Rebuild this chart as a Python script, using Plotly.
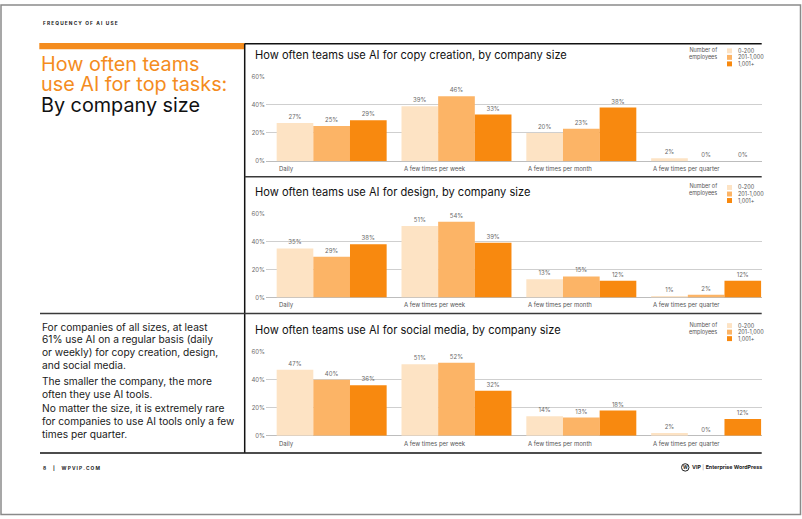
import plotly.graph_objects as go

W, H = 802, 519

# ---------------- data ----------------
categories = ["Daily", "A few times per week", "A few times per month", "A few times per quarter"]
sizes = ["0-200", "201-1,000", "1,001+"]

copy_small = [27, 39, 20, 2]
copy_mid = [25, 46, 23, 0]
copy_large = [29, 33, 38, 0]

design_small = [35, 51, 13, 1]
design_mid = [29, 54, 15, 2]
design_large = [38, 39, 12, 12]

social_small = [47, 51, 14, 2]
social_mid = [40, 52, 13, 0]
social_large = [36, 32, 18, 12]

chart_titles = [
    "How often teams use AI for copy creation, by company size",
    "How often teams use AI for design, by company size",
    "How often teams use AI for social media, by company size",
]
y_ticks = [0, 20, 40, 60]
y_tick_labels = ["0%", "20%", "40%", "60%"]

# ---------------- style ----------------
FONT = "Inter"
colors = ["#FDE3C4", "#FCB466", "#F8890F"]
ORANGE = "#F48C1E"
series = [
    [copy_small, copy_mid, copy_large],
    [design_small, design_mid, design_large],
    [social_small, social_mid, social_large],
]

# pixel geometry of each chart panel (60% line, 0% line, title y)
panels = [(73.5, 159.3, 52.0), (212.3, 297.5, 190.5), (352.3, 437.7, 330.5)]
PLOT_L, PLOT_R = 266.0, 761.7
BARGAP = 0.119


def px(x):
    return x / W


def py(y):
    return 1 - y / H


fig = go.Figure()
annotations = []
shapes = []

for i, (top, bot, ty) in enumerate(panels):
    n = "" if i == 0 else str(i + 1)
    for j, vals in enumerate(series[i]):
        fig.add_trace(go.Bar(
            x=categories, y=vals, name=sizes[j],
            marker=dict(color=colors[j], line=dict(width=0)),
            text=[f"{v}%" for v in vals], texttemplate="%{text}",
            textposition="outside",
            textfont=dict(size=6, color="#6b6b6b", family=FONT),
            cliponaxis=False, showlegend=False,
            xaxis="x" + n, yaxis="y" + n,
        ))
    fig.layout["xaxis" + n] = dict(
        domain=[px(PLOT_L), px(PLOT_R)], anchor="y" + n, type="category",
        categoryorder="array", categoryarray=categories,
        range=[-0.526, 3.445], showticklabels=False, showgrid=False,
        zeroline=False, showline=False, ticks="", fixedrange=True,
    )
    fig.layout["yaxis" + n] = dict(
        domain=[py(bot), py(top)], anchor="x" + n, range=[0, 60],
        tickmode="array", tickvals=y_ticks, ticktext=y_tick_labels,
        tickfont=dict(size=6, color="#6b6b6b", family=FONT),
        showgrid=True, gridcolor="#cfcfcf", gridwidth=1,
        zeroline=True, zerolinecolor="#bdbdbd", zerolinewidth=1,
        showline=False, ticks="", fixedrange=True,
    )
    # category labels, left-aligned at the start of each group
    half = (1 - BARGAP) / 2
    for k, c in enumerate(categories):
        annotations.append(dict(
            x=k - half, y=0, xref="x" + n, yref="y" + n, yshift=-8,
            text=c, showarrow=False, xanchor="left", yanchor="middle",
            font=dict(size=6, color="#555", family=FONT),
        ))
    # chart title
    annotations.append(dict(
        x=px(253.3), y=py(ty), xref="paper", yref="paper", text=chart_titles[i],
        showarrow=False, xanchor="left", yanchor="middle",
        font=dict(size=11.1, color="#111", family=FONT),
    ))
    # custom legend
    annotations.append(dict(
        x=px(718.5), y=py(ty - 1.5), xref="paper", yref="paper",
        text="Number of<br>employees", showarrow=False, xanchor="right",
        yanchor="middle", align="right",
        font=dict(size=5.5, color="#555", family=FONT),
    ))
    for j, s in enumerate(sizes):
        yy = ty - 4.5 + j * 6.6
        shapes.append(dict(
            type="rect", xref="paper", yref="paper",
            x0=px(727), x1=px(732), y0=py(yy + 2.5), y1=py(yy - 2.5),
            fillcolor=colors[j], line=dict(width=0),
        ))
        annotations.append(dict(
            x=px(735.5), y=py(yy), xref="paper", yref="paper", text=s,
            showarrow=False, xanchor="left", yanchor="middle",
            font=dict(size=5.5, color="#555", family=FONT),
        ))

# ---------------- page furniture ----------------
def hline(x0, x1, y, color, width):
    shapes.append(dict(type="line", xref="paper", yref="paper",
                       x0=px(x0), x1=px(x1), y0=py(y), y1=py(y),
                       line=dict(color=color, width=width)))


# frame
shapes.append(dict(type="rect", xref="paper", yref="paper",
                   x0=px(1), x1=px(800.5), y0=py(517.5), y1=py(1),
                   line=dict(color="#8a8a8a", width=1.5)))
hline(244.7, 761.7, 40.2, "#111", 1.5)
shapes.append(dict(type="rect", xref="paper", yref="paper",
                   x0=px(39.3), x1=px(244.7), y0=py(45.8), y1=py(39.6),
                   fillcolor=ORANGE, line=dict(width=0)))
shapes.append(dict(type="line", xref="paper", yref="paper",
                   x0=px(244.7), x1=px(244.7), y0=py(40), y1=py(455),
                   line=dict(color="#111", width=1.5)))
hline(244.7, 761.7, 175.2, "#3a3a3a", 1.5)
hline(40, 761.7, 313.8, "#3a3a3a", 1.5)
hline(40, 761.7, 455.2, "#111", 1.5)

annotations.append(dict(x=px(40.5), y=py(19.5), xref="paper", yref="paper",
                        text="<b>F R E Q U E N C Y   O F   A I   U S E</b>",
                        showarrow=False, xanchor="left", yanchor="middle",
                        font=dict(size=4.8, color="#222", family=FONT)))

for txt, yy, col in [("How often teams", 61, ORANGE),
                     ("use AI for top tasks:", 81.5, ORANGE),
                     ("By company size", 102, "#111")]:
    annotations.append(dict(x=px(38.5), y=py(yy), xref="paper", yref="paper",
                            text=txt, showarrow=False, xanchor="left", yanchor="middle",
                            font=dict(size=19.8, color=col, family=FONT)))

body_lines = [
    ("For companies of all sizes, at least", 327),
    ("61% use AI on a regular basis (daily", 340),
    ("or weekly) for copy creation, design,", 353),
    ("and social media.", 366),
    ("The smaller the company, the more", 382),
    ("often they use AI tools.", 395),
    ("No matter the size, it is extremely rare", 410),
    ("for companies to use AI tools only a few", 423),
    ("times per quarter.", 436),
]
for txt, yy in body_lines:
    annotations.append(dict(x=px(39.5), y=py(yy), xref="paper", yref="paper",
                            text=txt, showarrow=False, xanchor="left", yanchor="middle",
                            font=dict(size=10.2, color="#1a1a1a", family=FONT)))

annotations.append(dict(x=px(40.5), y=py(470), xref="paper", yref="paper",
                        text="<b>8      |      W P V I P . C O M</b>",
                        showarrow=False, xanchor="left", yanchor="middle",
                        font=dict(size=4.8, color="#222", family=FONT)))

# logo
shapes.append(dict(type="circle", xref="paper", yref="paper",
                   x0=px(681.5), x1=px(689), y0=py(473.5), y1=py(466),
                   line=dict(color="#222", width=1), fillcolor="white"))
annotations.append(dict(x=px(685.25), y=py(469.8), xref="paper", yref="paper",
                        text="<b>W</b>", showarrow=False, xanchor="center", yanchor="middle",
                        font=dict(size=4.6, color="#222", family=FONT)))
annotations.append(dict(x=px(689.5), y=py(469.8), xref="paper", yref="paper",
                        text="<b>VIP</b><span style='color:#888'> | </span><b>Enterprise WordPress</b>",
                        showarrow=False, xanchor="left", yanchor="middle",
                        font=dict(size=5.3, color="#222", family=FONT)))

fig.update_layout(
    width=W, height=H, margin=dict(l=0, r=0, t=0, b=0),
    paper_bgcolor="white", plot_bgcolor="white",
    barmode="group", bargap=BARGAP, bargroupgap=0,
    showlegend=False, annotations=annotations, shapes=shapes,
    font=dict(family=FONT),
)

fig.write_html("out.html",
               config={"displayModeBar": False, "staticPlot": True},
               post_script="document.body.style.margin='0px';document.body.style.overflow='hidden';")
